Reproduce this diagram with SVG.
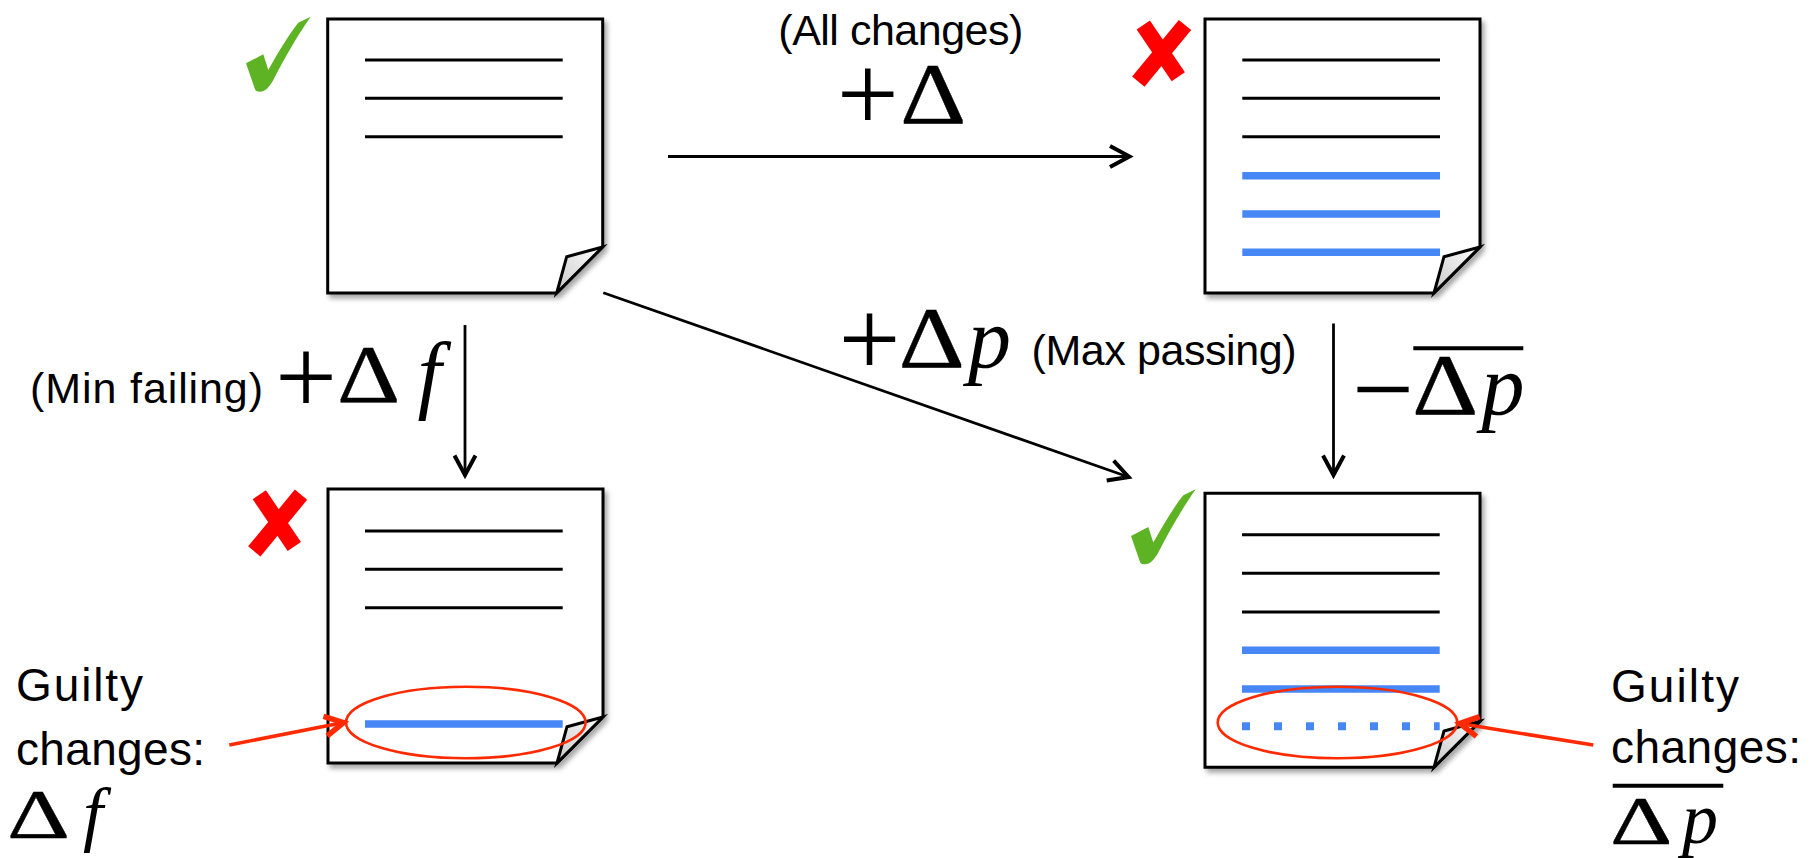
<svg xmlns="http://www.w3.org/2000/svg" width="1820" height="858" viewBox="0 0 1820 858">
<style>
.body{fill:#fff;stroke:#000;stroke-width:3;stroke-linejoin:miter}
.fold{fill:url(#fg);stroke:#000;stroke-width:3;stroke-linejoin:miter}
.bl{stroke:#000;stroke-width:3}
.blue{stroke:#4786F5;stroke-width:7.5}
.dots{stroke:#4786F5;stroke-width:8;stroke-dasharray:8 24}
.conn{stroke:#000;stroke-width:2.8;fill:none}
.red{stroke:#FF2A00;stroke-width:3.5;fill:none}
.ell{stroke:#FF2A00;stroke-width:2.6;fill:none}
.check{fill:#5DB324}
.cross{stroke:#FF0000;stroke-width:16;stroke-linecap:butt;fill:none}
.lab{font-family:"Liberation Sans",Arial,sans-serif;font-size:43px;fill:#000}
.big{font-family:"Liberation Sans",Arial,sans-serif;font-size:46px;fill:#000}
.m{font-family:"Liberation Serif","Times New Roman",serif;fill:#000}
.dl{font-family:"Liberation Serif","Times New Roman",serif;fill:#000;stroke:#000;stroke-width:0.35}
.it{font-style:italic}
</style>
<defs>
<linearGradient id="fg" x1="1" y1="0" x2="0" y2="1">
<stop offset="0" stop-color="#ffffff"/>
<stop offset="1" stop-color="#c8c8c8"/>
</linearGradient>
<filter id="sh" x="-10%" y="-10%" width="125%" height="125%">
<feDropShadow dx="3" dy="4" stdDeviation="2.5" flood-color="#000" flood-opacity="0.35"/>
</filter>
<marker id="ah" markerUnits="userSpaceOnUse" orient="auto" overflow="visible" markerWidth="1" markerHeight="1">
<path d="M-21,-10.5 L-1.5,0 L-21,10.5" fill="none" stroke="#000" stroke-width="4"/>
</marker>
<marker id="rh" markerUnits="userSpaceOnUse" orient="auto" overflow="visible" markerWidth="1" markerHeight="1">
<path d="M-20,-10 L-1.5,0 L-20,10" fill="none" stroke="#FF2A00" stroke-width="5.5"/>
</marker>
<g id="page">
<path class="body" filter="url(#sh)" d="M0,0 H275 V228 L229,274 H0 Z"/>
<path class="fold" d="M275,228 L239,237.7 L229,274 Z"/>
</g>
<path id="chk" d="M0,46.6 L17.3,37.6 L22.3,53.3 C32,36 44,16 52.3,6 L64.7,0 C52,18 38,42 27.3,63.3 C23,71 19,75 14,75 C11,75 9.5,74 9,72.6 Z"/>
<g id="x">
<line x1="12.6" y1="8" x2="47.6" y2="59.7"/>
<line x1="54.3" y1="8" x2="7.6" y2="64.7"/>
</g>
</defs>

<g id="doc-original">
<use href="#page" x="327.7" y="19"/>
<line class="bl" x1="365" y1="60" x2="562.7" y2="60"/>
<line class="bl" x1="365" y1="98.3" x2="562.7" y2="98.3"/>
<line class="bl" x1="365" y1="136.7" x2="562.7" y2="136.7"/>
<use href="#chk" class="check" x="246" y="16.7"/>
</g>

<g id="doc-all">
<use href="#page" x="1205" y="19"/>
<line class="bl" x1="1242.3" y1="60" x2="1440" y2="60"/>
<line class="bl" x1="1242.3" y1="98.3" x2="1440" y2="98.3"/>
<line class="bl" x1="1242.3" y1="136.7" x2="1440" y2="136.7"/>
<line class="blue" x1="1242.3" y1="175.7" x2="1440" y2="175.7"/>
<line class="blue" x1="1242.3" y1="214" x2="1440" y2="214"/>
<line class="blue" x1="1242.3" y1="252.3" x2="1440" y2="252.3"/>
<use href="#x" class="cross" x="1130.7" y="17"/>
</g>

<g id="doc-minfail">
<use href="#page" x="328" y="489"/>
<line class="bl" x1="365" y1="531" x2="562.7" y2="531"/>
<line class="bl" x1="365" y1="569.3" x2="562.7" y2="569.3"/>
<line class="bl" x1="365" y1="607.7" x2="562.7" y2="607.7"/>
<line class="blue" x1="365" y1="724" x2="562.7" y2="724"/>
<use href="#x" class="cross" x="246.7" y="486.7"/>
<ellipse class="ell" cx="465.8" cy="722.5" rx="119.8" ry="35.8"/>
</g>

<g id="doc-maxpass">
<use href="#page" x="1205" y="493.3"/>
<line class="bl" x1="1242" y1="534.7" x2="1439.7" y2="534.7"/>
<line class="bl" x1="1242" y1="573.3" x2="1439.7" y2="573.3"/>
<line class="bl" x1="1242" y1="612" x2="1439.7" y2="612"/>
<line class="blue" x1="1242" y1="650.3" x2="1439.7" y2="650.3"/>
<line class="blue" x1="1242" y1="689" x2="1439.7" y2="689"/>
<line class="dots" x1="1242" y1="726.3" x2="1439.7" y2="726.3"/>
<use href="#chk" class="check" x="1131" y="489.3"/>
<ellipse class="ell" cx="1337.5" cy="722.5" rx="119.8" ry="35.8"/>
</g>

<g id="connectors">
<line id="c-all" class="conn" x1="668" y1="156.5" x2="1131" y2="156.5" marker-end="url(#ah)"/>
<line id="c-minfail" class="conn" x1="465" y1="325" x2="465" y2="476.5" marker-end="url(#ah)"/>
<line id="c-maxpass" class="conn" x1="603.3" y1="292.7" x2="1130" y2="477.5" marker-end="url(#ah)"/>
<line id="c-remove" class="conn" x1="1333.5" y1="323.5" x2="1333.5" y2="476.5" marker-end="url(#ah)"/>
<line id="c-guilty-f" class="red" x1="229.3" y1="745" x2="345" y2="722.3" marker-end="url(#rh)"/>
<line id="c-guilty-p" class="red" x1="1593.3" y1="745" x2="1458.3" y2="723.3" marker-end="url(#rh)"/>
</g>

<g id="labels">
<text class="lab" x="900.8" y="45" text-anchor="middle" textLength="245">(All changes)</text>
<g id="lbl-all-delta">
<text class="m" x="836.7" y="130.8" font-size="110">+</text>
<text class="dl" transform="translate(900,123.3) scale(1.2,1)" font-size="86">Δ</text>
</g>

<text class="lab" x="30" y="403.3" textLength="233">(Min failing)</text>
<g id="lbl-min-delta">
<text class="m" x="275" y="413.6" font-size="110">+</text>
<text class="dl" transform="translate(337,401.7) scale(1.2,1)" font-size="82">Δ</text>
<text class="m it" x="417.5" y="401.7" font-size="86">f</text>
</g>

<g id="lbl-max-delta">
<text class="m" x="838.4" y="376" font-size="110">+</text>
<text class="dl" transform="translate(898.5,366.7) scale(1.2,1)" font-size="86">Δ</text>
<text class="m it" x="968" y="366.7" font-size="86">p</text>
</g>
<text class="lab" x="1031.5" y="365" textLength="265">(Max passing)</text>

<g id="lbl-remove">
<text class="m" x="1351.7" y="426.1" font-size="110">−</text>
<text class="dl" transform="translate(1412,414) scale(1.2,1)" font-size="86">Δ</text>
<text class="m it" x="1481.5" y="414" font-size="86">p</text>
<line x1="1413.3" y1="348.3" x2="1523.3" y2="348.3" stroke="#000" stroke-width="4"/>
</g>

<text class="big" x="16" y="701" textLength="127">Guilty</text>
<text class="big" x="16" y="765" textLength="189">changes:</text>
<g id="lbl-guilty-f">
<text class="dl" transform="translate(7,837.7) scale(1.4,1)" font-size="70">Δ</text>
<text class="m it" x="83" y="837.7" font-size="72">f</text>
</g>

<text class="big" x="1611" y="701.7" textLength="128">Guilty</text>
<text class="big" x="1611" y="763.3" textLength="190">changes:</text>
<g id="lbl-guilty-p">
<line x1="1612.7" y1="785.7" x2="1723.3" y2="785.7" stroke="#000" stroke-width="4"/>
<text class="dl" transform="translate(1610,843.3) scale(1.45,1)" font-size="67">Δ</text>
<text class="m it" x="1682" y="843.3" font-size="72">p</text>
</g>
</g>
</svg>
